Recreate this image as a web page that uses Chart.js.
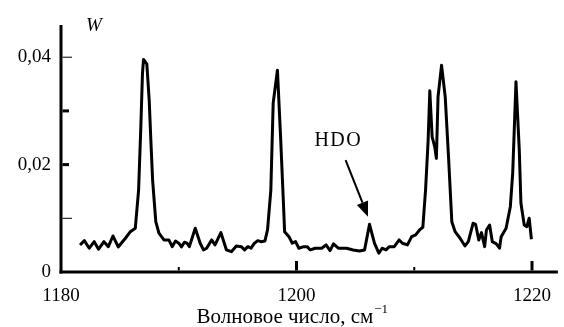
<!DOCTYPE html>
<html>
<head>
<meta charset="utf-8">
<script src="https://cdn.jsdelivr.net/npm/chart.js@4/dist/chart.umd.min.js"></script>
<style>
  html, body { margin: 0; padding: 0; background: #fff; }
  #wrap { width: 564px; height: 327px; position: relative; }
</style>
</head>
<body>
<div id="wrap"><canvas id="c"></canvas></div>
<script>
// ---- data ----
const wavenumbers = [
  1181.62, 1181.98, 1182.40, 1182.82, 1183.19, 1183.65, 1184.02, 1184.41, 1184.86, 1185.47,
  1185.89, 1186.31, 1186.59, 1186.77, 1186.92, 1187.01, 1187.29, 1187.49, 1187.63, 1187.78,
  1188.05, 1188.32, 1188.74, 1189.16, 1189.44, 1189.72, 1190.00, 1190.23, 1190.48, 1190.70,
  1190.90, 1191.40, 1191.82, 1192.10, 1192.37, 1192.79, 1193.08, 1193.58, 1194.05, 1194.47,
  1194.89, 1195.31, 1195.59, 1195.87, 1196.14, 1196.43, 1196.71, 1196.98, 1197.32, 1197.54,
  1197.82, 1198.02, 1198.38, 1198.66, 1198.89, 1198.99, 1199.36, 1199.64, 1199.92,
  1200.20, 1200.62, 1200.90, 1201.17, 1201.59, 1202.15, 1202.51, 1202.85, 1203.14, 1203.55,
  1204.25, 1204.81, 1205.36, 1205.78, 1206.20, 1206.62, 1206.99, 1207.27, 1207.60, 1207.88,
  1208.30, 1208.72, 1209.00, 1209.42, 1209.78, 1210.12, 1210.45, 1210.73, 1210.96, 1211.18,
  1211.32, 1211.52, 1211.74, 1211.88, 1212.02, 1212.32, 1212.63, 1212.91, 1213.19, 1213.47,
  1213.89, 1214.31, 1214.59, 1215.00, 1215.21, 1215.48, 1215.71, 1215.98, 1216.13, 1216.40,
  1216.63, 1216.97, 1217.24, 1217.38, 1217.80, 1218.16, 1218.36, 1218.64, 1218.92, 1219.06,
  1219.34, 1219.56, 1219.76, 1219.95
];
const absorbance = [
  0.00504, 0.00584, 0.00443, 0.00565, 0.00424, 0.00565, 0.00472, 0.00671, 0.00467, 0.00629,
  0.00751, 0.00815, 0.01527, 0.02643, 0.03703, 0.03958, 0.03870, 0.03201, 0.02457, 0.01713,
  0.00937, 0.00722, 0.00597, 0.00597, 0.00472, 0.00578, 0.00536, 0.00467, 0.00554, 0.00536,
  0.00472, 0.00815, 0.00536, 0.00411, 0.00443, 0.00597, 0.00504, 0.00733, 0.00411, 0.00379,
  0.00485, 0.00472, 0.00411, 0.00472, 0.00443, 0.00536, 0.00584, 0.00565, 0.00578, 0.00783,
  0.01527, 0.03145, 0.03759, 0.02457, 0.01285, 0.00751, 0.00658, 0.00536, 0.00565,
  0.00443, 0.00472, 0.00472, 0.00411, 0.00443, 0.00443, 0.00504, 0.00398, 0.00523, 0.00443,
  0.00443, 0.00411, 0.00392, 0.00411, 0.00889, 0.00536, 0.00350, 0.00443, 0.00411, 0.00472,
  0.00472, 0.00597, 0.00536, 0.00504, 0.00658, 0.00690, 0.00783, 0.00833, 0.01527, 0.02457,
  0.03374, 0.02518, 0.02332, 0.02116, 0.03262, 0.03852, 0.03262, 0.02146, 0.00937, 0.00751,
  0.00629, 0.00485, 0.00565, 0.00908, 0.00889, 0.00597, 0.00733, 0.00472, 0.00783, 0.00876,
  0.00565, 0.00523, 0.00443, 0.00658, 0.00815, 0.01216, 0.01837, 0.03541, 0.02271, 0.01280,
  0.00876, 0.00844, 0.01001, 0.00610
];
const xTickValues = [1180, 1190, 1200, 1210, 1220];
const xTickLabels = ['1180', '', '1200', '', '1220'];
const yTickValues = [0, 0.01, 0.02, 0.03, 0.04];
const yTickLabels = ['0', '', '0,02', '', '0,04'];
const xTitle = 'Волновое число, см';
const xTitleSup = '\u22121';
const yTitle = 'W';
const annotationText = 'HDO';
const annotationFrom = { x: 1204.17, y: 0.02085 };
const annotationTip = { x: 1206.07, y: 0.0103 };
const annotationLabel = { x: 1203.55, y: 0.0244 };

const FONT = "'Liberation Serif', 'Times New Roman', serif";

const axesPlugin = {
  id: 'axesDecor',
  afterDraw(chart) {
    const ctx = chart.ctx;
    const xs = chart.scales.x, ys = chart.scales.y;
    const area = chart.chartArea;
    ctx.save();
    ctx.strokeStyle = '#000';
    ctx.fillStyle = '#000';
    ctx.lineCap = 'butt';
    // y axis line
    ctx.lineWidth = 3;
    ctx.beginPath();
    ctx.moveTo(area.left, area.top);
    ctx.lineTo(area.left, area.bottom + 1.5);
    ctx.stroke();
    // x axis line
    ctx.beginPath();
    ctx.moveTo(area.left - 1.5, area.bottom);
    ctx.lineTo(area.right, area.bottom);
    ctx.stroke();
    // y ticks (inside)
    yTickValues.forEach((v, i) => {
      if (v === 0) return;
      const py = ys.getPixelForValue(v);
      const thick = (i === 2 || i === 3);
      ctx.lineWidth = thick ? 3 : 1;
      ctx.beginPath();
      ctx.moveTo(area.left + 1.5, py);
      ctx.lineTo(area.left + (thick ? 8 : 11), py);
      ctx.stroke();
    });
    // x ticks (inside)
    xTickValues.forEach((v, i) => {
      if (v === 1180) return;
      const px = xs.getPixelForValue(v);
      const major = (i % 2 === 0);
      ctx.lineWidth = major ? 3 : 2;
      ctx.beginPath();
      ctx.moveTo(px, area.bottom - 1.5);
      ctx.lineTo(px, area.bottom - (major ? 11 : 5));
      ctx.stroke();
    });
    // y title
    ctx.font = "italic 19px " + FONT;
    ctx.textAlign = 'center';
    ctx.textBaseline = 'middle';
    ctx.fillText(yTitle, area.left + 33, area.top + 1);
    // x title
    ctx.font = "21px " + FONT;
    ctx.textBaseline = 'alphabetic';
    const mainW = ctx.measureText(xTitle).width;
    ctx.font = "13px " + FONT;
    const supW = ctx.measureText(xTitleSup).width;
    const cx = xs.getPixelForValue(1199.6);
    const startX = cx - (mainW + supW) / 2;
    ctx.textAlign = 'left';
    ctx.font = "21px " + FONT;
    ctx.fillText(xTitle, startX, 323);
    ctx.font = "13px " + FONT;
    ctx.fillText(xTitleSup, startX + mainW + 1, 313);
    // annotation
    ctx.font = "20px " + FONT;
    ctx.letterSpacing = '1.5px';
    ctx.textAlign = 'center';
    ctx.textBaseline = 'middle';
    ctx.fillText(annotationText, xs.getPixelForValue(annotationLabel.x), ys.getPixelForValue(annotationLabel.y));
    ctx.letterSpacing = '0px';
    const x0 = xs.getPixelForValue(annotationFrom.x), y0 = ys.getPixelForValue(annotationFrom.y);
    const x1 = xs.getPixelForValue(annotationTip.x), y1 = ys.getPixelForValue(annotationTip.y);
    const ang = Math.atan2(y1 - y0, x1 - x0);
    const headLen = 15, headW = 6;
    const bx = x1 - headLen * Math.cos(ang), by = y1 - headLen * Math.sin(ang);
    ctx.lineWidth = 2;
    ctx.beginPath();
    ctx.moveTo(x0, y0);
    ctx.lineTo(bx, by);
    ctx.stroke();
    ctx.beginPath();
    ctx.moveTo(x1, y1);
    ctx.lineTo(bx + headW * Math.sin(ang), by - headW * Math.cos(ang));
    ctx.lineTo(bx - headW * Math.sin(ang), by + headW * Math.cos(ang));
    ctx.closePath();
    ctx.fill();
    ctx.restore();
  }
};

new Chart(document.getElementById('c'), {
  type: 'line',
  data: {
    datasets: [{
      data: wavenumbers.map((w, i) => ({ x: w, y: absorbance[i] })),
      borderColor: '#000',
      borderWidth: 3,
      pointRadius: 0,
      tension: 0,
      borderJoinStyle: 'round',
      fill: false
    }]
  },
  options: {
    responsive: true,
    maintainAspectRatio: false,
    animation: false,
    devicePixelRatio: 1,
    layout: { padding: { top: 25, right: 0, left: 0, bottom: 0 } },
    plugins: { legend: { display: false }, tooltip: { enabled: false } },
    scales: {
      x: {
        type: 'linear',
        min: 1180,
        max: 1222.2,
        grid: { display: false, drawTicks: false },
        border: { display: false },
        afterBuildTicks: s => { s.ticks = xTickValues.map(v => ({ value: v })); },
        afterFit: s => { s.height = 55; },
        ticks: {
          autoSkip: false,
          maxRotation: 0,
          padding: 13,
          color: '#000',
          font: { family: FONT, size: 19 },
          callback: (v) => xTickLabels[xTickValues.indexOf(v)] ?? ''
        }
      },
      y: {
        type: 'linear',
        min: 0,
        max: 0.046,
        grid: { display: false, drawTicks: false },
        border: { display: false },
        afterBuildTicks: s => { s.ticks = yTickValues.map(v => ({ value: v })); },
        afterFit: s => { s.width = 61; },
        ticks: {
          autoSkip: false,
          padding: 10,
          color: '#000',
          font: { family: FONT, size: 19 },
          callback: (v) => yTickLabels[yTickValues.indexOf(v)] ?? ''
        }
      }
    }
  },
  plugins: [axesPlugin]
});
</script>
</body>
</html>
